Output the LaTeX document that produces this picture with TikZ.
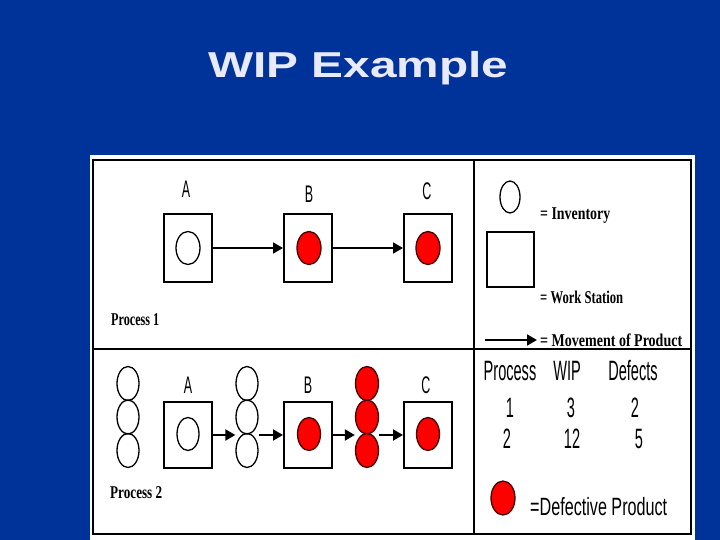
\documentclass[tikz,border=0pt]{standalone}
\usepackage{fontspec}
\setmainfont{Liberation Serif}
\setsansfont{Liberation Sans}
\usetikzlibrary{arrows.meta,shapes.geometric}
\definecolor{bg}{RGB}{0,51,153}
\definecolor{ttl}{RGB}{232,234,250}
\definecolor{defred}{RGB}{255,0,0}
\newcommand{\fw}[2]{\resizebox{#1pt}{\height}{#2}}
\newcommand{\nar}[1]{\scalebox{0.52}[1]{#1}}
\begin{document}
\begin{tikzpicture}[x=1pt,y=-1pt,
  station/.style={draw,line width=2pt,minimum width=48pt,minimum height=68pt,inner sep=0pt,fill=white},
  stationtwo/.style={station,minimum height=66pt},
  inv/.style={ellipse,draw,line width=1.3pt,minimum width=22pt,minimum height=33pt,inner sep=0pt},
  stackinv/.style={inv,minimum height=34pt},
  defect/.style={inv,fill=defred,draw=black!75!red,minimum width=23pt},
  stackdef/.style={defect,minimum height=34pt},
  arr/.style={line width=2pt,-{Triangle[length=10pt,width=11pt]}},
  letter/.style={inner sep=0pt,anchor=base,font=\sffamily\fontsize{24}{24}\selectfont},
  serifl/.style={inner sep=0pt,anchor=base west,font=\rmfamily\bfseries\fontsize{18}{20}\selectfont},
  tab/.style={inner sep=0pt,anchor=base,font=\sffamily\fontsize{28}{30}\selectfont}
]
\useasboundingbox (0,0) rectangle (720,540);
\fill[bg] (0,0) rectangle (720,540);
\fill[white] (90,155) rectangle (695,540);

% title
\node[inner sep=0pt,anchor=base west,text=ttl,font=\sffamily\bfseries\fontsize{36}{40}\selectfont] (title) at (208,78) {\fw{300}{WIP Example}};

% frame
\draw[line width=2.5pt] (93,160) rectangle (691,534);
\draw[line width=2pt] (474,160) -- (474,534);
\draw[line width=2pt] (93,349) -- (691,349);

% ---------- Process 1 ----------
\node[station] (pA) at (188,248) {};
\node[station] (pB) at (308,248) {};
\node[station] (pC) at (428,248) {};
\node[inv,minimum width=24pt] (pAc) at (188,248) {};
\node[defect,minimum width=24pt] (pBc) at (309,248) {};
\node[defect,minimum width=24pt] (pCc) at (428,248) {};
\node[letter] (lA1) at (186,198) {\nar{A}};
\node[letter] (lB1) at (309,203) {\nar{B}};
\node[letter] (lC1) at (427,200) {\nar{C}};
\draw[arr] (pA.east) -- (pB.west);
\draw[arr] (pB.east) -- (pC.west);
\node[serifl] (p1) at (111,325) {\fw{48}{Process 1}};

% ---------- Process 2 ----------
\node[stationtwo] (qA) at (188,435) {};
\node[stationtwo] (qB) at (308,435) {};
\node[stationtwo] (qC) at (428,435) {};
\node[inv] (qAc) at (188,434) {};
\node[defect] (qBc) at (309,434) {};
\node[defect] (qCc) at (428,434) {};
\node[stackinv] (s1a) at (128,383.5) {};
\node[stackinv] (s1b) at (128,417) {};
\node[stackinv] (s1c) at (128,450.5) {};
\node[stackinv] (s2a) at (247,383.5) {};
\node[stackinv] (s2b) at (247,417) {};
\node[stackinv] (s2c) at (247,450.5) {};
\node[stackdef] (s3a) at (367,383.5) {};
\node[stackdef] (s3b) at (367,417) {};
\node[stackdef] (s3c) at (367,450.5) {};
\node[letter] (lA2) at (188,393) {\nar{A}};
\node[letter] (lB2) at (308,393) {\nar{B}};
\node[letter] (lC2) at (426,393) {\nar{C}};
\draw[arr] (qA.east) -- (qA.east -| s2b.west);
\draw[arr] (qB.west -| s2b.east) -- (qB.west);
\draw[arr] (qB.east) -- (qB.east -| s3b.west);
\draw[arr] (qC.west -| s3b.east) -- (qC.west);
\node[serifl] (p2) at (110,498) {\fw{52}{Process 2}};

% ---------- Legend ----------
\node[inv,minimum width=20pt,minimum height=32pt] (legc) at (510,197) {};
\node[serifl] (legct) at (540,219) {\fw{70}{= Inventory}};
\node[draw,line width=2pt,minimum width=47pt,minimum height=55pt,inner sep=0pt] (legr) at (510.5,259.5) {};
\node[serifl] (legrt) at (540,303) {\fw{83}{= Work Station}};
\coordinate (la) at (485,340);
\coordinate (lb) at (537,340);
\draw[arr] (la) -- (lb);
\node[serifl] (legat) at (540,346) {\fw{142}{= Movement of Product}};

% ---------- Table ----------
\node[tab] (h1) at (510,380) {\nar{Process}};
\node[tab] (h2) at (567,380) {\nar{WIP}};
\node[tab] (h3) at (633,380) {\nar{Defects}};
\node[tab] (r11) at (510,417) {\nar{1}};
\node[tab] (r12) at (571,417) {\nar{3}};
\node[tab] (r13) at (635,417) {\nar{2}};
\node[tab] (r21) at (507,448) {\nar{2}};
\node[tab] (r22) at (572,448) {\nar{12}};
\node[tab] (r23) at (639,448) {\nar{5}};
\node[defect,minimum width=24pt,minimum height=34pt] (dp) at (503,498) {};
\node[inner sep=0pt,anchor=base west,font=\sffamily\fontsize{25}{28}\selectfont] (dpt) at (530,515) {\fw{137}{=Defective Product}};
\end{tikzpicture}
\end{document}
